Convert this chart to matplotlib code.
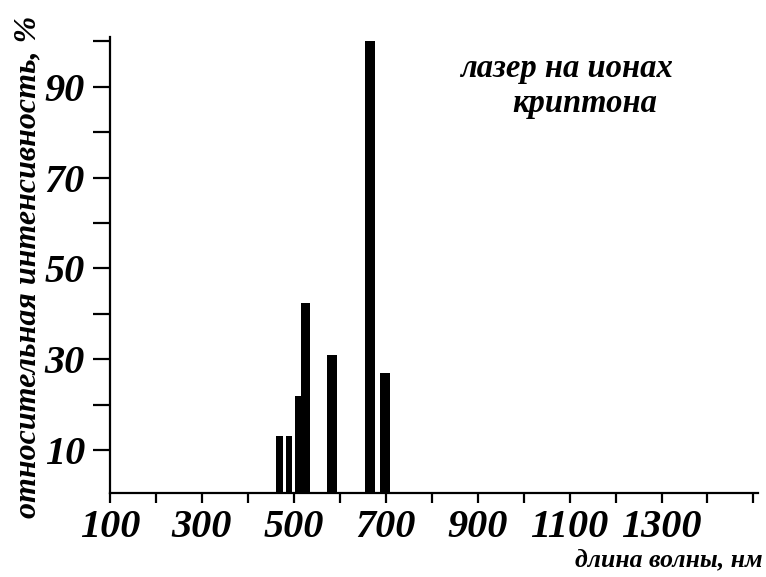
import matplotlib
matplotlib.use("Agg")
import matplotlib.pyplot as plt
from matplotlib.ticker import MultipleLocator, FixedLocator

# Data
wavelengths_nm = [469, 490, 510, 525, 583, 666, 698]
intensity_pct = [13, 13, 22, 42.5, 31, 100, 27]
bar_widths_nm = [14, 14, 14, 20, 23, 23, 22]
x_tick_labels = [100, 300, 500, 700, 900, 1100, 1300]
y_tick_labels = [10, 30, 50, 70, 90]

plt.rcParams['font.family'] = ['Liberation Serif', 'DejaVu Serif']
fs = 29

fig = plt.figure(figsize=(7.66, 5.77), dpi=100)
ax = fig.add_axes([0.1436, 0.146, 0.846, 0.790])

ax.bar(wavelengths_nm, intensity_pct, width=bar_widths_nm, color='black',
       edgecolor='black', linewidth=0, zorder=3)

ax.set_xlim(100, 1510)
ax.set_ylim(0.6, 101)

for s in ['top', 'right']:
    ax.spines[s].set_visible(False)
for s in ['left', 'bottom']:
    ax.spines[s].set_linewidth(1.6)

ax.xaxis.set_major_locator(FixedLocator(x_tick_labels))
ax.xaxis.set_minor_locator(MultipleLocator(100))
ax.yaxis.set_major_locator(FixedLocator(y_tick_labels))
ax.yaxis.set_minor_locator(MultipleLocator(10))

ax.tick_params(axis='x', which='both', direction='out', length=7, width=1.6, pad=5)
ax.tick_params(axis='y', which='both', direction='out', length=12, width=1.6, pad=6)

ax.set_xticklabels([str(v) for v in x_tick_labels], fontsize=fs,
                   fontweight='bold', fontstyle='italic')
ax.set_yticklabels([str(v) for v in y_tick_labels], fontsize=fs,
                   fontweight='bold', fontstyle='italic')

fig.text(0.036, 0.537, 'относительная интенсивность, %', rotation=90,
         ha='center', va='center', fontsize=23, fontweight='bold',
         fontstyle='italic')
fig.text(0.995, 0.030, 'длина волны, нм', ha='right', va='center',
         fontsize=18.5, fontweight='bold', fontstyle='italic')

fig.text(0.739, 0.881, 'лазер на ионах', ha='center', va='center',
         fontsize=23.5, fontweight='bold', fontstyle='italic')
fig.text(0.764, 0.820, 'криптона', ha='center', va='center',
         fontsize=23.5, fontweight='bold', fontstyle='italic')

fig.savefig('out.png', dpi=100)
